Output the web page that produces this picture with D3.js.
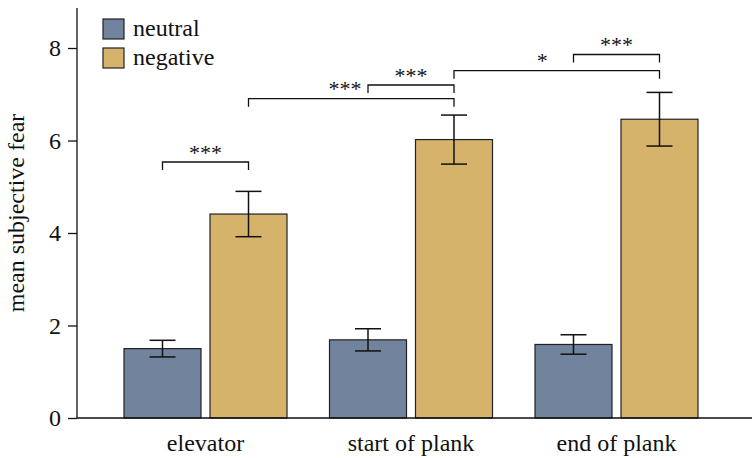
<!DOCTYPE html>
<html><head><meta charset="utf-8">
<script src="https://cdn.jsdelivr.net/npm/d3@7/dist/d3.min.js"></script>
<style>body{margin:0;background:#fff}svg{display:block}text{font-family:"Liberation Serif","Times New Roman",serif;fill:#111}</style>
</head><body><svg id="c" width="752" height="458"></svg>
<script>
const categories = ["elevator", "start of plank", "end of plank"];
const seriesNames = ["neutral", "negative"];
const neutralMeans = [1.50, 1.69, 1.59];
const negativeMeans = [4.41, 6.02, 6.46];
const neutralErr = [0.18, 0.24, 0.21];
const negativeErr = [0.49, 0.53, 0.58];
const yTicks = [0, 2, 4, 6, 8];
const colors = ["#72839e", "#d5b36b"];
// significance brackets: [category, series] endpoints, level (data units), label, label position along bracket
const brackets = [
  {a:[0,0], b:[0,1], level:5.535, label:"***", at:0.5},
  {a:[0,1], b:[1,1], level:6.904, label:"***", at:0.47},
  {a:[1,0], b:[1,1], level:7.20, label:"***", at:0.5},
  {a:[1,1], b:[2,1], level:7.51, label:"*", at:0.43},
  {a:[2,0], b:[2,1], level:7.86, label:"***", at:0.5}
];

const svg = d3.select("#c");
const y = d3.scaleLinear().domain([0, 8.865]).range([418, 8]);
const x0 = d3.scaleBand().domain(categories).range([102.75, 719.25]).paddingInner(0.2068).paddingOuter(0.1034);
const x1 = d3.scaleBand().domain(seriesNames).range([0, x0.bandwidth()]).paddingInner(0.1047);

const data = [];
categories.forEach((c, i) => {
  data.push({c, s:"neutral", v:neutralMeans[i], e:neutralErr[i], k:0});
  data.push({c, s:"negative", v:negativeMeans[i], e:negativeErr[i], k:1});
});

// bars
svg.append("g").selectAll("rect").data(data).join("rect")
  .attr("x", d => x0(d.c) + x1(d.s))
  .attr("y", d => y(d.v))
  .attr("width", x1.bandwidth())
  .attr("height", d => y(0) - y(d.v))
  .attr("fill", d => colors[d.k])
  .attr("stroke", "#222").attr("stroke-width", 1.2);

// error bars
const cx = d => x0(d.c) + x1(d.s) + x1.bandwidth()/2;
const eg = svg.append("g").attr("stroke", "#111").attr("stroke-width", 1.5).attr("fill", "none");
data.forEach(d => {
  eg.append("line").attr("x1", cx(d)).attr("x2", cx(d)).attr("y1", y(d.v + d.e)).attr("y2", y(d.v - d.e));
  [d.v + d.e, d.v - d.e].forEach(v => eg.append("line").attr("x1", cx(d) - 13).attr("x2", cx(d) + 13).attr("y1", y(v)).attr("y2", y(v)));
});

// axes
const yAxis = svg.append("g").attr("transform", "translate(77,0)")
  .call(d3.axisLeft(y).tickValues(yTicks).tickSize(9).tickPadding(7).tickFormat(d3.format("d")));
yAxis.select(".domain").attr("d", `M0,${y(8.865)}V${y(0)}`).attr("stroke", "#111").attr("stroke-width", 1.3);
yAxis.selectAll(".tick line").attr("stroke", "#111").attr("stroke-width", 1.3);
yAxis.selectAll(".tick text").style("font-size", "24px").style("font-family", "Liberation Serif").attr("fill", "#111");

const xAxis = svg.append("g").attr("transform", `translate(0,${y(0)})`)
  .call(d3.axisBottom(x0).tickSize(0).tickPadding(0));
xAxis.select(".domain").attr("d", `M77,0H752`).attr("stroke", "#111").attr("stroke-width", 1.3);
xAxis.selectAll(".tick text").attr("dy", null).attr("y", 33).style("font-size", "24px").style("font-family", "Liberation Serif").attr("fill", "#111");

// y label
svg.append("text").attr("transform", "translate(24,213) rotate(-90)").attr("text-anchor", "middle")
  .style("font-size", "24px").text("mean subjective fear");

// brackets
const bx = p => x0(categories[p[0]]) + x1(seriesNames[p[1]]) + x1.bandwidth()/2;
const bg = svg.append("g");
brackets.forEach(b => {
  const xa = bx(b.a), xb = bx(b.b), yy = y(b.level);
  bg.append("path").attr("d", `M${xa},${yy + 8}V${yy}H${xb}V${yy + 8}`)
    .attr("fill", "none").attr("stroke", "#111").attr("stroke-width", 1.3);
  bg.append("text").attr("x", xa + (xb - xa) * b.at).attr("y", yy - 2.5).attr("text-anchor", "middle")
    .style("font-size", "22px").text(b.label);
});

// legend
const lg = svg.append("g");
seriesNames.forEach((s, i) => {
  lg.append("rect").attr("x", 103).attr("y", 19 + i * 29).attr("width", 21).attr("height", 20)
    .attr("fill", colors[i]).attr("stroke", "#222").attr("stroke-width", 1.2);
  lg.append("text").attr("x", 133).attr("y", 36 + i * 29).style("font-size", "24px").text(s);
});
</script></body></html>
